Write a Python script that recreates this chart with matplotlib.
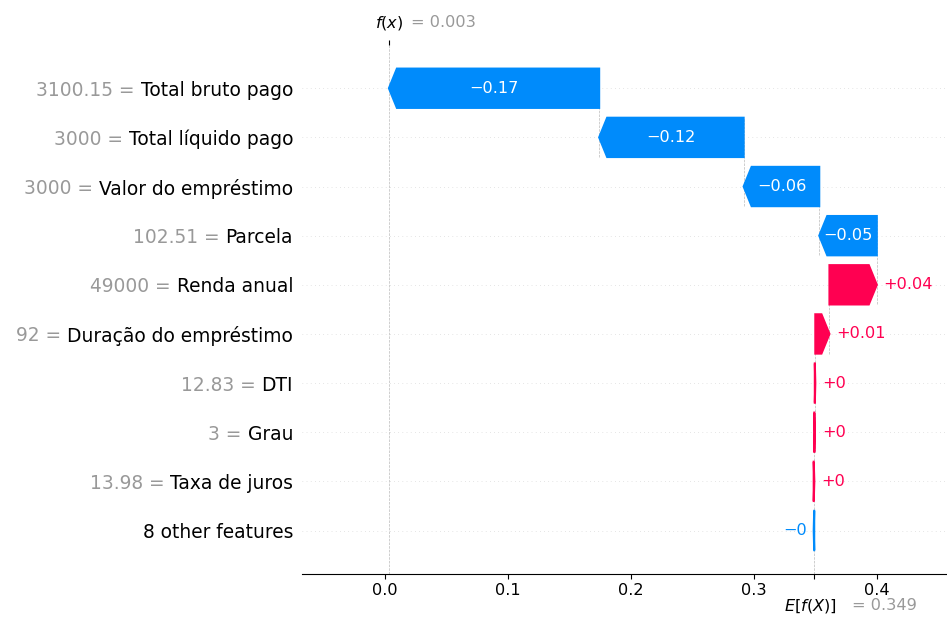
import numpy as np
import matplotlib.pyplot as plt

# Waterfall of feature contributions for one loan prediction
BASE_VALUE = 0.349

# rows listed bottom -> top
feature_names = [
    "8 other features", "Taxa de juros", "Grau", "DTI",
    "Duração do empréstimo", "Renda anual", "Parcela",
    "Valor do empréstimo", "Total líquido pago", "Total bruto pago",
]
feature_values = [None, "13.98", "3", "12.83", "92", "49000", "102.51",
                  "3000", "3000", "3100.15"]
shap_values = [-0.0004, 0.0005, 0.0004, 0.0004, 0.0115, 0.0385,
               -0.0468, -0.0615, -0.1175, -0.171]

RED = (1.0, 0.0, 0.31765)
BLUE = (0.0, 0.5451, 0.9843)
GRAY = "#999999"
LABEL_SIZE = 13.4
VALUE_SIZE = 11.6


def fmt(v, spec):
    s = spec % v
    s = s.rstrip("0").rstrip(".")
    if s.startswith("-"):
        s = "\u2212" + s[1:]
    return s


n = len(feature_names)
fx = BASE_VALUE + sum(shap_values)

fig = plt.figure(figsize=(9.47, 6.25), dpi=100)
ax = fig.add_axes([0.319, 0.082, 0.681, 0.846])
xlim = (-0.0675, 0.457)
ax.set_xlim(*xlim)
ax.set_ylim(-0.88, n - 1 + 0.88)

ax_w_in = ax.get_position().width * fig.get_figwidth()
to_x = (xlim[1] - xlim[0]) / ax_w_in  # inches -> data units
hl = 0.08 * to_x
bar_w = 0.8

renderer = fig.canvas.get_renderer()
inv = ax.transData.inverted()

# background guide lines
for i in range(n):
    ax.axhline(i, color="#cccccc", lw=0.5, dashes=(1, 5), zorder=-1)
ax.axvline(BASE_VALUE, 0, 1 / n, color="#bbbbbb", ls="--", lw=0.5, zorder=-1)
ax.axvline(fx, 0, 1, color="#bbbbbb", ls="--", lw=0.5, zorder=-1)

start = BASE_VALUE
for i, v in enumerate(shap_values):
    if i > 0:
        ax.plot([start, start], [i - 1 - 0.4, i + 0.4], color="#bbbbbb",
                ls="--", lw=0.5, zorder=-1)
    if v >= 0:
        ax.arrow(start, i, max(v - hl, 1e-6), 0, head_length=min(v, hl),
                 color=RED, width=bar_w, head_width=bar_w, lw=1.5)
        col = RED
    else:
        ax.arrow(start, i, -max(-v - hl, 1e-6), 0, head_length=min(-v, hl),
                 color=BLUE, width=bar_w, head_width=bar_w, lw=1.5)
        col = BLUE

    label = fmt(v, "%+0.02f")
    txt = ax.text(start + v / 2, i, label, ha="center", va="center",
                  color="white", fontsize=VALUE_SIZE)
    bb = txt.get_window_extent(renderer=renderer)
    (x0, _), (x1, _) = inv.transform([(bb.x0, 0), (bb.x1, 0)])
    if x1 - x0 > abs(v) - hl * 0.5:
        txt.remove()
        if v >= 0:
            ax.text(start + v + (5 / 72) * to_x, i, label, ha="left",
                    va="center", color=col, fontsize=VALUE_SIZE)
        else:
            ax.text(start + v - (5 / 72) * to_x, i, label, ha="right",
                    va="center", color=col, fontsize=VALUE_SIZE)
    start += v

# f(x) tick on top
ax3 = ax.twiny()
ax3.set_xlim(*xlim)
ax3.set_xticks([fx])
ax3.set_xticklabels([""])
for s in ["top", "right", "left", "bottom"]:
    ax3.spines[s].set_visible(False)

# y labels: black feature name, gray "value =" just left of it
ax.set_yticks(range(n))
ax.set_yticklabels(feature_names, fontsize=LABEL_SIZE)
ax.tick_params(axis="y", length=0, pad=6.5)

ax.set_xticks([0.0, 0.1, 0.2, 0.3, 0.4])
ax.set_xticklabels(["0.0", "0.1", "0.2", "0.3", "0.4"], fontsize=11.6)
ax.set_xticks([BASE_VALUE], minor=True)
ax.tick_params(axis="x", which="minor", length=3.5, width=0.8)
for s in ["top", "right", "left"]:
    ax.spines[s].set_visible(False)

fig.canvas.draw()
probe_a = fig.text(0, 0, "x x", fontsize=LABEL_SIZE)
probe_b = fig.text(0, 0, "xx", fontsize=LABEL_SIZE)
space_px = (probe_a.get_window_extent(renderer).width
            - probe_b.get_window_extent(renderer).width)
probe_a.remove()
probe_b.remove()

for tl, val in zip(ax.yaxis.get_majorticklabels(), feature_values):
    if val is None:
        continue
    bb = tl.get_window_extent(renderer)
    ax.annotate(f"{val} =", xy=(bb.x0 - space_px, (bb.y0 + bb.y1) / 2),
                xycoords="figure pixels", ha="right", va="center",
                fontsize=LABEL_SIZE, color=GRAY)

ax.annotate("$f(x)$", xy=(fx, 1), xycoords=("data", "axes fraction"),
            xytext=(0, 16), textcoords="offset points", ha="center",
            va="center", fontsize=11.6)
ax.annotate("= " + fmt(fx, "%0.03f"), xy=(fx, 1),
            xycoords=("data", "axes fraction"), xytext=(16, 16),
            textcoords="offset points", ha="left", va="center",
            fontsize=11.6, color=GRAY)

ax.annotate("$E[f(X)]$", xy=(BASE_VALUE, 0), xycoords=("data", "axes fraction"),
            xytext=(-22, -23), textcoords="offset points", ha="left",
            va="center", fontsize=11.6)
ax.annotate("= " + fmt(BASE_VALUE, "%0.03f"), xy=(BASE_VALUE, 0),
            xycoords=("data", "axes fraction"), xytext=(27, -23),
            textcoords="offset points", ha="left", va="center",
            fontsize=11.6, color=GRAY)

fig.savefig("out.png", dpi=100)
